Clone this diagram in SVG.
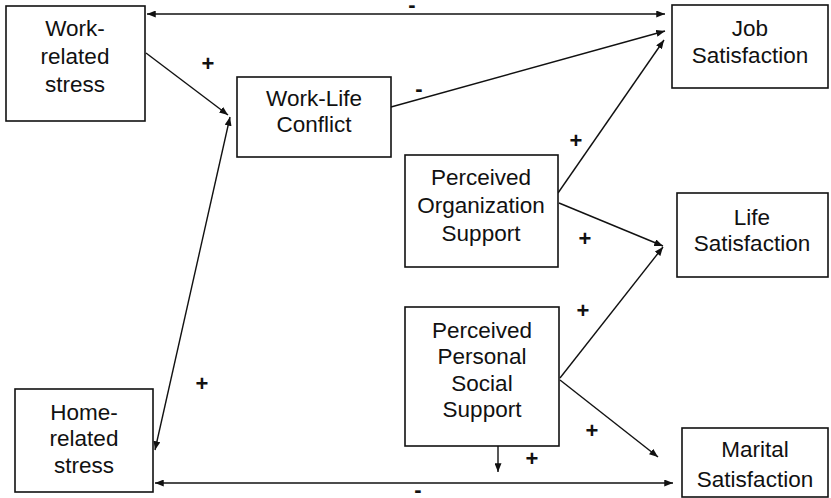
<svg xmlns="http://www.w3.org/2000/svg" width="831" height="498" viewBox="0 0 831 498">
<style>
.box{fill:#fff;stroke:#111;stroke-width:1.6}
.t{font-family:"Liberation Sans",Arial,sans-serif;font-size:22.5px;fill:#111;text-anchor:middle}
.l{font-family:"Liberation Sans",Arial,sans-serif;font-size:22px;font-weight:bold;fill:#111;text-anchor:middle}
.c{fill:none;stroke:#111;stroke-width:1.4}
</style>
<defs>
<marker id="ah" viewBox="0 0 10 8" refX="10" refY="4" markerWidth="9" markerHeight="7" markerUnits="userSpaceOnUse" orient="auto-start-reverse">
<path d="M0,0 L10,4 L0,8 z" fill="#111"/>
</marker>
</defs>
<rect width="831" height="498" fill="#fff"/>
<g id="connectors">
<line class="c" x1="147" y1="14" x2="665" y2="14" marker-start="url(#ah)" marker-end="url(#ah)"/>
<line class="c" x1="146" y1="53" x2="228" y2="115" marker-end="url(#ah)"/>
<line class="c" x1="155" y1="450" x2="230" y2="117" marker-start="url(#ah)" marker-end="url(#ah)"/>
<line class="c" x1="391" y1="107" x2="665" y2="31" marker-end="url(#ah)"/>
<line class="c" x1="558" y1="193" x2="664" y2="40" marker-end="url(#ah)"/>
<line class="c" x1="559" y1="203" x2="663" y2="246" marker-end="url(#ah)"/>
<line class="c" x1="560" y1="378" x2="663" y2="247" marker-end="url(#ah)"/>
<line class="c" x1="560" y1="380" x2="658" y2="457" marker-end="url(#ah)"/>
<line class="c" x1="155" y1="483" x2="673" y2="483" marker-start="url(#ah)" marker-end="url(#ah)"/>
<line class="c" x1="498" y1="446" x2="498" y2="472" marker-end="url(#ah)"/>
<text class="l" x="412" y="12">-</text>
<text class="l" x="208" y="71">+</text>
<text class="l" x="419" y="96">-</text>
<text class="l" x="576" y="148">+</text>
<text class="l" x="585" y="246">+</text>
<text class="l" x="583" y="318">+</text>
<text class="l" x="592" y="438">+</text>
<text class="l" x="202" y="391">+</text>
<text class="l" x="532" y="466">+</text>
<text class="l" x="418" y="497">-</text>
</g>
<g id="work-stress">
<rect class="box" x="6" y="6" width="139" height="115"/>
<text class="t" x="75" y="36">Work-</text>
<text class="t" x="75" y="64">related</text>
<text class="t" x="75" y="92">stress</text>
</g>
<g id="work-life-conflict">
<rect class="box" x="237" y="77" width="154" height="80"/>
<text class="t" x="314" y="106">Work-Life</text>
<text class="t" x="314" y="132">Conflict</text>
</g>
<g id="job-satisfaction">
<rect class="box" x="672" y="5" width="156" height="83"/>
<text class="t" x="750" y="36">Job</text>
<text class="t" x="750" y="63">Satisfaction</text>
</g>
<g id="org-support">
<rect class="box" x="405" y="155" width="153" height="112"/>
<text class="t" x="481" y="185">Perceived</text>
<text class="t" x="481" y="213">Organization</text>
<text class="t" x="481" y="241">Support</text>
</g>
<g id="life-satisfaction">
<rect class="box" x="677" y="193" width="151" height="84"/>
<text class="t" x="752" y="225">Life</text>
<text class="t" x="752" y="251">Satisfaction</text>
</g>
<g id="personal-support">
<rect class="box" x="405" y="307" width="154" height="139"/>
<text class="t" x="482" y="338">Perceived</text>
<text class="t" x="482" y="364">Personal</text>
<text class="t" x="482" y="391">Social</text>
<text class="t" x="482" y="417">Support</text>
</g>
<g id="home-stress">
<rect class="box" x="15" y="389" width="138" height="103"/>
<text class="t" x="84" y="420">Home-</text>
<text class="t" x="84" y="446">related</text>
<text class="t" x="84" y="473">stress</text>
</g>
<g id="marital-satisfaction">
<rect class="box" x="682" y="428" width="146" height="69"/>
<text class="t" x="755" y="457">Marital</text>
<text class="t" x="755" y="487">Satisfaction</text>
</g>
</svg>
